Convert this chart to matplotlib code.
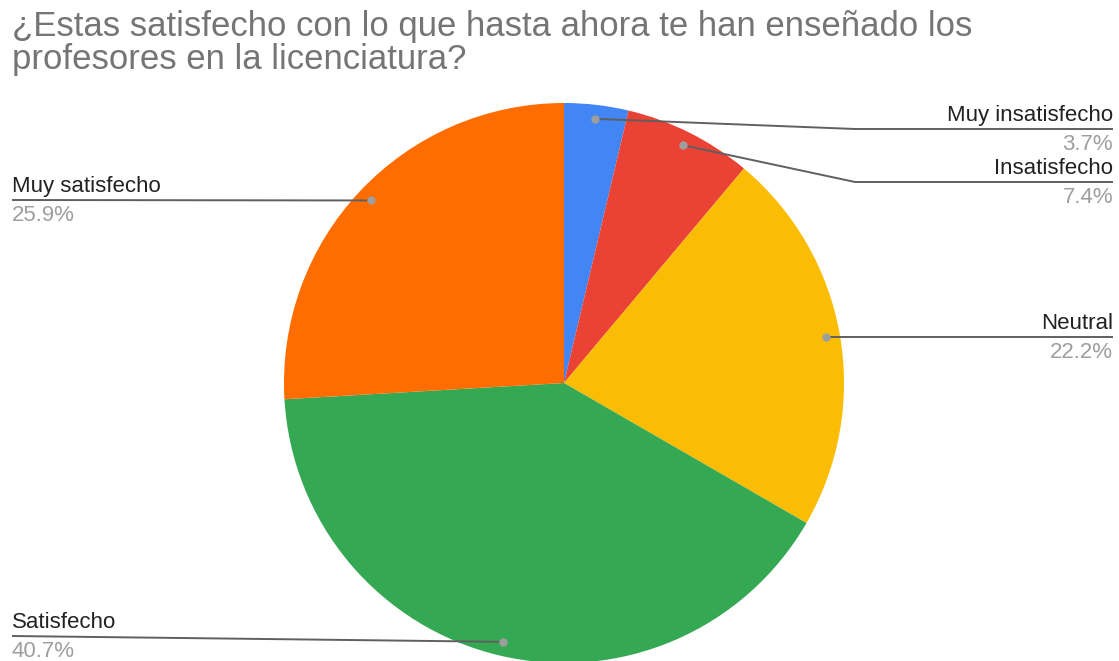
import numpy as np
import matplotlib
matplotlib.use("Agg")
import matplotlib.pyplot as plt

# Survey answers (counts) and their labels, clockwise from 12 o'clock
categories = ["Muy insatisfecho", "Insatisfecho", "Neutral", "Satisfecho", "Muy satisfecho"]
counts = [1, 2, 6, 11, 7]
colors = ["#4285F4", "#EA4335", "#FBBC04", "#34A853", "#FF6D01"]
title = "¿Estas satisfecho con lo que hasta ahora te han enseñado los\nprofesores en la licenciatura?"

# Leader-line layout: side of the label and y of its horizontal rule (pixels from top)
label_side = ["right", "right", "right", "left", "left"]
label_rule_y = [129, 182, 337, 636, 200]

W, H = 1119, 661
plt.rcParams["font.family"] = ["Liberation Sans", "DejaVu Sans"]

fig = plt.figure(figsize=(W / 100, H / 100), dpi=100)
ax = fig.add_axes([0, 0, 1, 1])

cx, cy, R = 564, H - 383, 280
ax.pie(counts, colors=colors, startangle=90, counterclock=False,
       center=(cx, cy), radius=R, frame=True, wedgeprops=dict(linewidth=0))
ax.set_xlim(0, W)
ax.set_ylim(0, H)
ax.set_aspect("equal")
ax.axis("off")

total = sum(counts)
cum = 0
for name, n, side, ry in zip(categories, counts, label_side, label_rule_y):
    frac_mid = (cum + n / 2) / total
    cum += n
    ang = np.deg2rad(90 - 360 * frac_mid)
    dx, dy = cx + 0.95 * R * np.cos(ang), cy + 0.95 * R * np.sin(ang)
    ry_d = H - ry
    pct = f"{100 * n / total:.1f}%"
    if side == "right":
        end_x, ha = 1113, "right"
        knee_x = 855 if abs(dy - ry_d) > 3 else dx
        xs, ys = [dx, knee_x, end_x], [dy, ry_d, ry_d]
    else:
        end_x, ha = 12, "left"
        xs, ys = [dx, end_x], [dy, ry_d]
    ax.plot(xs, ys, color="#5f5f5f", lw=1.4, solid_capstyle="butt", zorder=3)
    ax.text(end_x, ry_d + 8, name, ha=ha, va="baseline", fontsize=16,
            color="#222222")
    ax.text(end_x, ry_d - 21, pct, ha=ha, va="baseline", fontsize=16,
            color="#9e9e9e")
    ax.plot(dx, dy, "o", ms=6, color="#9e9e9e", mec="none", zorder=4)

line1, line2 = title.split("\n")
fig.text(12 / W, 1 - 36 / H, line1, ha="left", va="baseline",
         fontsize=25, color="#757575")
fig.text(12 / W, 1 - 69 / H, line2, ha="left", va="baseline",
         fontsize=25, color="#757575")

fig.savefig("out.png", dpi=100, facecolor="white")
